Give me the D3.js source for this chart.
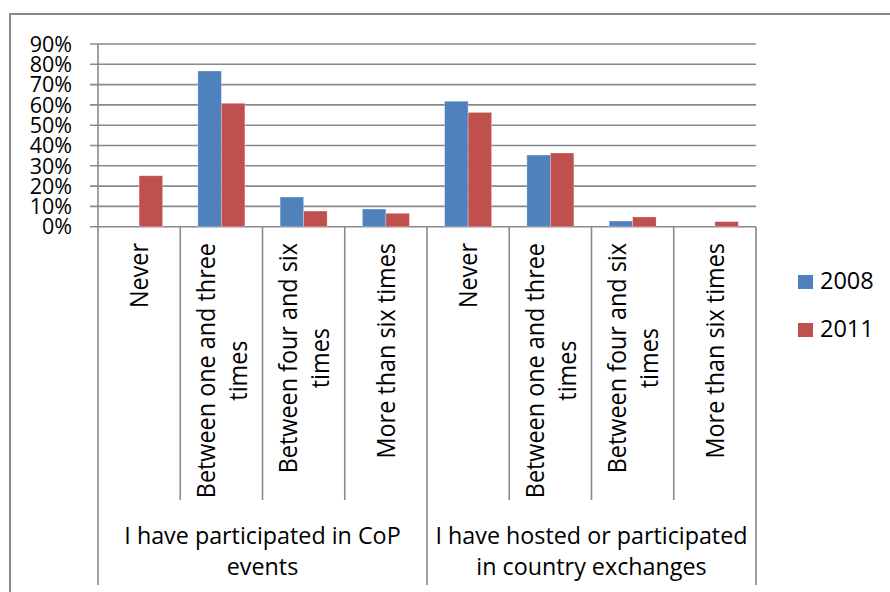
<!DOCTYPE html>
<html>
<head>
<meta charset="utf-8">
<script src="https://cdn.jsdelivr.net/npm/d3@7"></script>
<style>
  body { margin: 0; background: #fff; }
  svg { display: block; }
  text { font-family: "Open Sans", Lato, sans-serif; fill: #000; }
</style>
</head>
<body>
<svg id="chart" width="890" height="592"></svg>
<script>
// Survey answers, two question groups, two survey years
const groupLabels = [
  ["I have participated in CoP", "events"],
  ["I have hosted or participated", "in country exchanges"]
];
const answerLabels = [
  ["Never"],
  ["Between one and three", "times"],
  ["Between four and six", "times"],
  ["More than six times"]
];
const years = ["2008", "2011"];
// share of respondents (%) per answer, group 1 answers then group 2 answers
const values2008 = [0, 76.7, 14.6, 8.7, 61.8, 35.3, 2.8, 0];
const values2011 = [25.1, 60.8, 7.7, 6.6, 56.3, 36.3, 4.8, 2.5];
const yTicks = [0, 10, 20, 30, 40, 50, 60, 70, 80, 90];
const colors = ["#4f81bd", "#c0504d"];

const svg = d3.select("#chart");
const gray = "#898989";

// chart frame
svg.append("rect")
  .attr("x", 10).attr("y", 14).attr("width", 900).attr("height", 600)
  .attr("fill", "none").attr("stroke", gray).attr("stroke-width", 2);

const cats = d3.range(groupLabels.length * answerLabels.length);
const x = d3.scaleBand().domain(cats).range([98, 756]).paddingInner(0).paddingOuter(0);
const xs = d3.scaleBand().domain(years).range([0, x.bandwidth()]).paddingInner(0).paddingOuter(0.75);
const y = d3.scaleLinear().domain([0, 90]).range([226.7, 44]);
const axisBottom = 585, innerBottom = 500;

// horizontal gridlines with left tick marks
svg.append("g").selectAll("line").data(yTicks).join("line")
  .attr("x1", 90).attr("x2", 756)
  .attr("y1", d => y(d)).attr("y2", d => y(d))
  .attr("stroke", gray).attr("stroke-width", 1.6);

// y tick labels
svg.append("g").selectAll("text").data(yTicks).join("text")
  .attr("x", 72).attr("y", d => y(d))
  .attr("dy", "0.36em")
  .attr("text-anchor", "end")
  .style("font-size", "21.5px")
  .text(d => d + "%");

// bars
const series = [values2008, values2011];
series.forEach((vals, si) => {
  svg.append("g").selectAll("rect").data(vals).join("rect")
    .attr("x", (d, i) => x(i) + xs(years[si]))
    .attr("width", xs.bandwidth())
    .attr("y", d => y(d))
    .attr("height", d => y(0) - y(d))
    .attr("fill", colors[si])
    .attr("stroke", d => d > 0 ? "rgba(255,255,255,0.35)" : "none")
    .attr("stroke-width", 0.8);
});

// value axis line
svg.append("line")
  .attr("x1", 98).attr("x2", 98).attr("y1", 44).attr("y2", axisBottom)
  .attr("stroke", gray).attr("stroke-width", 1.6);

// category dividers: short between answers, long between groups
const per = answerLabels.length;
cats.forEach(i => {
  const xx = x(i) + x.bandwidth();
  const long = (i + 1) % per === 0;
  svg.append("line")
    .attr("x1", xx).attr("x2", xx)
    .attr("y1", y(0)).attr("y2", long ? axisBottom : innerBottom)
    .attr("stroke", gray).attr("stroke-width", 1.6);
});

// rotated answer labels, top-aligned, lines centred within each label
const lineH = 32;
const labelTop = 243;
cats.forEach(i => {
  const lines = answerLabels[i % per];
  const cx = x(i) + x.bandwidth() / 2;
  const g = svg.append("g");
  const texts = lines.map((ln, li) => g.append("text")
    .attr("text-anchor", "middle")
    .style("font-size", "23.4px")
    .text(ln));
  const maxLen = d3.max(texts, t => t.node().getComputedTextLength());
  const cy = labelTop + maxLen / 2;
  texts.forEach((t, li) => {
    const off = (li - (lines.length - 1) / 2) * lineH;
    t.attr("transform", `translate(${cx + off},${cy}) rotate(-90) scale(1,1.1)`)
     .attr("dy", "0.36em");
  });
});

// group labels
groupLabels.forEach((lines, gi) => {
  const x0 = x(gi * per), x1 = x(gi * per + per - 1) + x.bandwidth();
  lines.forEach((ln, li) => {
    svg.append("text")
      .attr("x", (x0 + x1) / 2).attr("y", 544 + li * 31)
      .attr("text-anchor", "middle")
      .style("font-size", "23.3px")
      .text(ln);
  });
});

// legend
const legend = svg.append("g");
years.forEach((yr, i) => {
  const ly = 275 + i * 48;
  legend.append("rect").attr("x", 798).attr("y", ly).attr("width", 15).attr("height", 14)
    .attr("fill", colors[i]);
  legend.append("text").attr("x", 820).attr("y", ly + 14)
    .style("font-size", "23.5px").text(yr);
});
</script>
</body>
</html>
